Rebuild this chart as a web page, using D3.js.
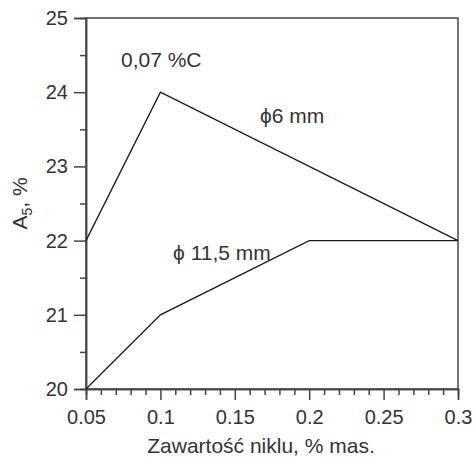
<!DOCTYPE html>
<html><head><meta charset="utf-8">
<script src="https://cdn.jsdelivr.net/npm/d3@7"></script>
<style>body{margin:0;background:#fff}svg{display:block}</style>
</head><body>
<script>
const xTicks = [0.05, 0.1, 0.15, 0.2, 0.25, 0.3];
const xTickLabels = ["0.05", "0.1", "0.15", "0.2", "0.25", "0.3"];
const yTicks = [20, 21, 22, 23, 24, 25];
const s6x = [0.05, 0.1, 0.3];
const s6y = [22, 24, 22];
const s115x = [0.05, 0.1, 0.2, 0.3];
const s115y = [20, 21, 22, 22];

const W = 474, H = 459;
const m = {l: 86, t: 18, r: 16, b: 70};
const svg = d3.select("body").append("svg").attr("width", W).attr("height", H);
const x = d3.scaleLinear().domain([0.05, 0.3]).range([m.l, W - m.r]);
const y = d3.scaleLinear().domain([20, 25]).range([H - m.b, m.t]);
const font = "'Liberation Sans', Arial, sans-serif";
const ink = "#333";

// frame
svg.append("rect").attr("x", x(0.05)).attr("y", y(25)).attr("width", x(0.3) - x(0.05)).attr("height", y(20) - y(25))
  .attr("fill", "none").attr("stroke", "#444").attr("stroke-width", 1.5);

const xMinor = d3.range(5, 31).map(d => d / 100).filter(d => !xTicks.some(t => Math.abs(t - d) < 1e-9));
const yMinor = d3.range(20.5, 25, 1);

svg.append("g").attr("transform", `translate(0,${y(20)})`)
  .call(d3.axisBottom(x).tickValues(xTicks).tickFormat((d, i) => xTickLabels[i]).tickSize(11).tickPadding(10));
svg.append("g").attr("transform", `translate(0,${y(20)})`)
  .call(d3.axisBottom(x).tickValues(xMinor).tickFormat("").tickSize(6));
svg.append("g").attr("transform", `translate(${x(0.05)},0)`)
  .call(d3.axisLeft(y).tickValues(yTicks).tickFormat(d3.format("d")).tickSize(12).tickPadding(6));
svg.append("g").attr("transform", `translate(${x(0.05)},0)`)
  .call(d3.axisLeft(y).tickValues(yMinor).tickFormat("").tickSize(6));
svg.selectAll(".domain").attr("stroke", "#444").attr("stroke-width", 1.5);
svg.selectAll(".tick line").attr("stroke", "#444").attr("stroke-width", 1.5);
svg.selectAll(".tick text").attr("font-family", font).attr("font-size", 20).attr("fill", ink);

const line = d3.line().x(d => x(d[0])).y(d => y(d[1]));
svg.append("path").datum(s6x.map((v, i) => [v, s6y[i]])).attr("d", line)
  .attr("fill", "none").attr("stroke", "#1a1a1a").attr("stroke-width", 1.3);
svg.append("path").datum(s115x.map((v, i) => [v, s115y[i]])).attr("d", line)
  .attr("fill", "none").attr("stroke", "#1a1a1a").attr("stroke-width", 1.3);

function txt(t, xx, yy, anchor, size) {
  return svg.append("text").attr("x", xx).attr("y", yy).attr("text-anchor", anchor || "start")
    .attr("font-family", font).attr("font-size", size || 21).attr("fill", ink).text(t);
}
txt("0,07 %C", x(0.0735), y(24.34));
txt("ϕ6 mm", x(0.167), y(23.585));
txt("ϕ 11,5 mm", x(0.1085), y(21.74));
txt("Zawartość niklu, % mas.", (x(0.05) + x(0.3)) / 2 - 11, 453, "middle");
const yl = svg.append("text").attr("transform", `translate(27,${(y(20) + y(25)) / 2}) rotate(-90)`)
  .attr("text-anchor", "middle").attr("font-family", font).attr("font-size", 21).attr("fill", ink);
yl.append("tspan").text("A");
yl.append("tspan").attr("font-size", 14).attr("dy", 5).text("5");
yl.append("tspan").attr("dy", -5).text(", %");
</script>
</body></html>
